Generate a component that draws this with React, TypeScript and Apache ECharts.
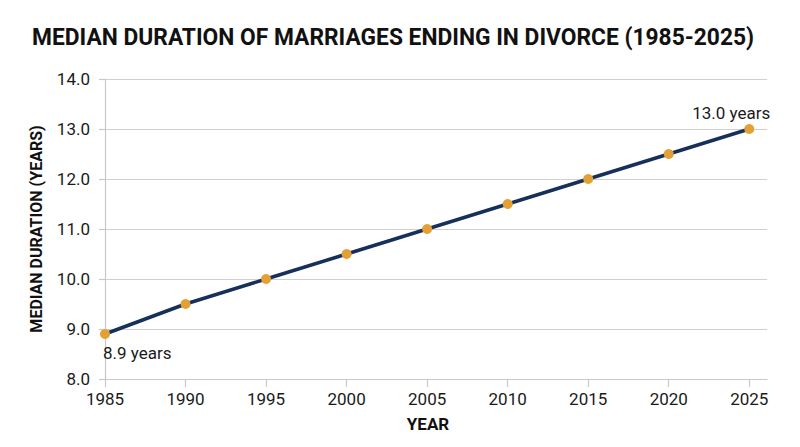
import { useEffect, useRef } from 'react'
import * as echarts from 'echarts'

const years = [1985, 1990, 1995, 2000, 2005, 2010, 2015, 2020, 2025]
const durations = [8.9, 9.5, 10.0, 10.5, 11.0, 11.5, 12.0, 12.5, 13.0]
const yTicks = [8, 9, 10, 11, 12, 13, 14]

const titleText = 'MEDIAN DURATION OF MARRIAGES ENDING IN DIVORCE (1985-2025)'
const font = 'Roboto, "Noto Sans", sans-serif'

export const App = () => {
  const chartRef = useRef(null)

  useEffect(() => {
    document.body.style.margin = '0'
    const chart = echarts.init(chartRef.current, null, { renderer: 'svg' })

    const last = years.length - 1
    const data = years.map((y, i) => {
      const item: any = { value: [y, durations[i]] }
      if (i === 0) {
        item.label = {
          show: true,
          position: 'bottom',
          align: 'left',
          offset: [-2, 0],
          formatter: durations[i].toFixed(1) + ' years'
        }
      } else if (i === last) {
        item.label = {
          show: true,
          position: 'top',
          align: 'center',
          offset: [-18, 2],
          formatter: durations[i].toFixed(1) + ' years'
        }
      }
      return item
    })

    const option = {
      animation: false,
      backgroundColor: '#ffffff',
      textStyle: { fontFamily: font },
      graphic: [
        {
          type: 'group',
          x: 393,
          y: 37,
          scaleX: 0.95,
          children: [
            {
              type: 'text',
              x: 0,
              y: 0,
              style: {
                text: titleText,
                fontFamily: font,
                fontWeight: 'bold',
                fontSize: 24,
                fill: '#111111',
                align: 'center',
                verticalAlign: 'middle'
              }
            }
          ]
        }
      ],
      grid: { left: 105, right: 33, top: 79, bottom: 68 },
      xAxis: {
        type: 'value',
        min: years[0],
        max: 2026.1,
        interval: 5,
        name: 'YEAR',
        nameLocation: 'middle',
        nameGap: 36,
        nameTextStyle: {
          fontFamily: font,
          fontWeight: 'bold',
          fontSize: 17,
          color: '#111',
          padding: [0, 16, 0, 0]
        },
        axisLine: { show: true, lineStyle: { color: '#c8c8c8', width: 1.2 } },
        axisTick: { show: true, length: 8, customValues: years, lineStyle: { color: '#c8c8c8', width: 1.2 } },
        axisLabel: {
          customValues: years,
          fontSize: 17,
          color: '#1a1a1a',
          margin: 11,
          formatter: (v: number) => String(v)
        },
        splitLine: { show: false }
      },
      yAxis: {
        type: 'value',
        min: yTicks[0],
        max: yTicks[yTicks.length - 1],
        interval: 1,
        name: 'MEDIAN DURATION (YEARS)',
        nameLocation: 'middle',
        nameGap: 61,
        nameTextStyle: { fontFamily: font, fontWeight: 'bold', fontSize: 16, color: '#111' },
        axisLine: { show: true, lineStyle: { color: '#c8c8c8', width: 1.2 } },
        axisTick: { show: true, length: 6, lineStyle: { color: '#c8c8c8', width: 1.2 } },
        axisLabel: {
          fontSize: 17,
          color: '#1a1a1a',
          margin: 15,
          formatter: (v: number) => v.toFixed(1)
        },
        splitLine: { show: true, lineStyle: { color: '#d0d0d0', width: 1.2 } }
      },
      series: [
        {
          type: 'line',
          data,
          lineStyle: { color: '#16305a', width: 3.5 },
          itemStyle: { color: '#e3a035' },
          symbol: 'circle',
          symbolSize: 10,
          label: { fontSize: 17, color: '#1a1a1a', fontFamily: font }
        }
      ]
    }

    chart.setOption(option)

    return () => {
      chart.dispose()
    }
  }, [])

  return <div ref={chartRef} style={{ width: '800px', height: '447px' }} />
}

export default App
